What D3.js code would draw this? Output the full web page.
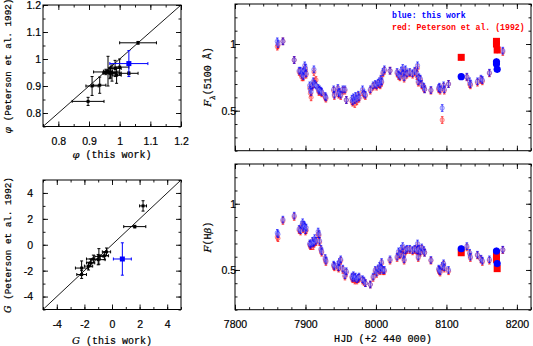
<!DOCTYPE html>
<html><head><meta charset="utf-8">
<script src="https://cdn.jsdelivr.net/npm/d3@7"></script>
<style>
body{margin:0;background:#fff;}
svg{display:block;}
.tick text{font-family:"Liberation Sans",Arial,sans-serif;font-size:10.5px;fill:#000;stroke:#000;stroke-width:0.2px;}
.lab{font-family:"Liberation Mono","DejaVu Sans Mono",monospace;font-size:10px;fill:#000;stroke:#000;stroke-width:0.2px;}
</style></head>
<body><svg id="c" width="533" height="346"></svg>
<script>
// ---------- DATA ----------
// phi comparison (this work vs Peterson 1992)
const phiX    = [1.06, 0.897, 0.91, 0.935, 0.955, 0.962, 0.968, 0.975, 0.985, 1.0, 1.03, 0.97, 0.99];
const phiY    = [1.06, 0.843, 0.90, 0.903, 0.952, 0.955, 0.947, 0.948, 0.965, 0.97, 0.947, 0.95, 0.94];
const phiXerr = [0.06, 0.052, 0.02, 0.02, 0.04, 0.015, 0.02, 0.03, 0.02, 0.03, 0.03, 0.02, 0.015];
const phiYerr = [0.005, 0.015, 0.035, 0.03, 0.01, 0.055, 0.02, 0.03, 0.03, 0.03, 0.005, 0.02, 0.03];
const phiBlue = {x: 1.03, y: 0.983, xerr: 0.062, yerr: 0.048};
// G comparison
const gX    = [2.25, 1.65, -0.4, -0.55, -0.95, -1.0, -1.35, -1.55, -1.7, -2.2, -2.2];
const gY    = [3.0, 1.4, -0.55, -0.85, -0.9, -1.15, -1.1, -1.4, -1.65, -1.8, -2.3];
const gXerr = [0.25, 0.8, 0.3, 0.3, 0.3, 0.5, 0.5, 0.3, 0.3, 0.45, 0.35];
const gYerr = [0.4, 0.1, 0.3, 0.3, 0.6, 0.4, 0.3, 0.3, 0.3, 0.55, 0.3];
const gBlue = {x: 0.75, y: -1.1, xerr: 0.65, yerr: 1.25};
// light curves (HJD - 2440000)
const hjd = [7860,7861,7868,7884,7891,7893,7895,7896,7897,7898,7899,7900,7901,7906,7907,7908,7910,7911,7912,7913,7915,7918,7919,7920,7922,7923,7928,7929,7940,7941,7946,7947,7948,7950,7953,7956,7958,7966,7967,7968,7970,7971,7973,7975,7976,7981,7983,7985,7992,7996,7999,8001,8003,8005,8006,8007,8008,8010,8012,8020,8030,8032,8034,8036,8038,8039,8040,8042,8044,8048,8052,8055,8058,8059,8060,8061,8063,8065,8068,8069,8078,8089,8090,8091,8094,8096,8097,8103,8129,8133,8134,8144,8149,8151,8161,8180];
const f5100Blue = [1.02,1.00,1.02,0.88,0.80,0.80,0.77,0.79,0.76,0.80,0.84,0.82,0.78,0.69,0.66,0.64,0.69,0.72,0.81,0.70,0.69,0.67,0.65,0.66,0.65,0.64,0.61,0.60,0.66,0.62,0.67,0.63,0.64,0.62,0.66,0.66,0.58,0.59,0.57,0.60,0.58,0.61,0.59,0.62,0.60,0.66,0.63,0.62,0.66,0.69,0.70,0.69,0.71,0.72,0.70,0.74,0.72,0.79,0.81,0.80,0.79,0.77,0.76,0.80,0.82,0.78,0.75,0.81,0.78,0.79,0.78,0.80,0.78,0.84,0.72,0.75,0.74,0.70,0.68,0.66,0.655,0.67,0.68,0.66,0.52,0.69,0.66,0.70,0.755,0.72,0.70,0.72,0.74,0.73,0.785,0.95];
const f5100Red  = [0.98,0.99,1.02,0.88,0.79,0.78,0.75,0.77,0.75,0.79,0.82,0.80,0.77,0.67,0.63,0.60,0.68,0.70,0.79,0.72,0.73,0.66,0.64,0.65,0.64,0.63,0.60,0.59,0.65,0.61,0.66,0.62,0.63,0.61,0.65,0.65,0.58,0.57,0.56,0.58,0.55,0.59,0.57,0.61,0.59,0.64,0.62,0.61,0.65,0.68,0.69,0.68,0.70,0.70,0.69,0.73,0.71,0.78,0.80,0.80,0.78,0.76,0.75,0.78,0.80,0.77,0.74,0.79,0.77,0.78,0.77,0.79,0.76,0.82,0.71,0.74,0.73,0.69,0.67,0.66,0.65,0.66,0.67,0.65,0.43,0.68,0.65,0.70,0.75,0.70,0.69,0.71,0.73,0.72,0.78,0.94];
const hbBlue = [0.78,0.77,0.88,0.91,0.81,0.80,0.84,0.86,0.82,0.84,0.83,0.80,0.82,0.70,0.69,0.70,0.72,0.70,0.71,0.74,0.72,0.79,0.77,0.72,0.66,0.64,0.59,0.57,0.54,0.53,0.54,0.52,0.56,0.58,0.51,0.46,0.49,0.45,0.44,0.46,0.44,0.45,0.43,0.44,0.45,0.43,0.42,0.40,0.39,0.45,0.50,0.48,0.51,0.53,0.50,0.52,0.56,0.50,0.50,0.58,0.60,0.64,0.62,0.66,0.68,0.61,0.58,0.65,0.66,0.66,0.65,0.66,0.65,0.70,0.60,0.66,0.64,0.67,0.65,0.63,0.575,0.51,0.50,0.49,0.53,0.55,0.52,0.50,0.68,0.63,0.60,0.615,0.585,0.57,0.58,0.653];
const hbRed  = [0.75,0.74,0.87,0.90,0.80,0.79,0.83,0.84,0.81,0.82,0.82,0.79,0.80,0.69,0.68,0.68,0.71,0.68,0.70,0.72,0.71,0.77,0.76,0.71,0.65,0.63,0.58,0.56,0.53,0.52,0.52,0.51,0.55,0.57,0.50,0.45,0.48,0.44,0.43,0.45,0.42,0.43,0.42,0.43,0.44,0.42,0.41,0.40,0.39,0.44,0.49,0.47,0.50,0.51,0.49,0.51,0.55,0.49,0.49,0.57,0.59,0.62,0.61,0.64,0.66,0.60,0.57,0.64,0.65,0.65,0.64,0.65,0.64,0.68,0.59,0.65,0.63,0.66,0.64,0.63,0.57,0.50,0.49,0.48,0.52,0.54,0.51,0.49,0.67,0.62,0.59,0.61,0.58,0.56,0.57,0.65];
// special epochs (large symbols)
const bigHjd5100Blue = [8121, 8171, 8171, 8172];
const bigF5100Blue   = [0.755, 0.867, 0.85, 0.81];
const bigHjd5100Red  = [8121, 8171, 8171, 8172];
const bigF5100Red    = [0.90, 1.02, 1.0, 0.955];
const bigHjdHbBlue = [8121, 8171, 8172];
const bigHbBlue    = [0.66, 0.643, 0.548];
const bigHjdHbRed  = [8121, 8171, 8171, 8172];
const bigHbRed     = [0.63, 0.61, 0.58, 0.51];
// ticks
const phiTicks = [0.8, 0.9, 1.0, 1.1, 1.2];
const gTicks = [-4, -2, 0, 2, 4];
const hjdTicks = [7800, 7900, 8000, 8100, 8200];
const fluxTicks = [0.5, 1];

// ---------- DRAWING ----------
const svg = d3.select("#c");
const fmt = d => (d === 1 ? "1" : String(d));

function frame(x0, y0, w, h, xd, yd, xMajor, xMinor, yMajor, yMinor, showXLabels, yLabelEnd) {
  const x = d3.scaleLinear().domain(xd).range([x0, x0 + w]);
  const y = d3.scaleLinear().domain(yd).range([y0 + h, y0]);
  const g = svg.append("g");
  const M = 5, m = 2.5;
  const axes = [
    [d3.axisBottom(x), `translate(0,${y0 + h})`, xMajor, xMinor, true],
    [d3.axisTop(x), `translate(0,${y0})`, xMajor, xMinor, false],
    [d3.axisLeft(y), `translate(${x0},0)`, yMajor, yMinor, true],
    [d3.axisRight(y), `translate(${x0 + w},0)`, yMajor, yMinor, false]
  ];
  axes.forEach(([ax, tr, maj, min, lab], i) => {
    g.append("g").attr("transform", tr)
      .call(ax.tickValues(min).tickSize(-m).tickFormat(""))
      .call(s => s.select(".domain").remove());
    const a = g.append("g").attr("transform", tr)
      .call(ax.tickValues(maj).tickSize(-M).tickPadding(i < 2 ? 11 : (x0 - yLabelEnd - M)).tickFormat(lab && (i >= 2 || showXLabels) ? fmt : ""));
    a.select(".domain").remove();
  });
  g.selectAll(".tick line").attr("stroke", "#000").attr("stroke-width", 0.9);
  g.append("rect").attr("x", x0).attr("y", y0).attr("width", w).attr("height", h)
    .attr("fill", "none").attr("stroke", "#000").attr("stroke-width", 1);
  return {x, y, g};
}

function errPts(p, xs, ys, xe, ye, color, size) {
  const gg = p.g.append("g");
  xs.forEach((xv, i) => {
    const cx = p.x(xv), cy = p.y(ys[i]);
    const x1 = p.x(xv - xe[i]), x2 = p.x(xv + xe[i]);
    const y1 = p.y(ys[i] - ye[i]), y2 = p.y(ys[i] + ye[i]);
    gg.append("line").attr("x1", x1).attr("x2", x2).attr("y1", cy).attr("y2", cy).attr("stroke", color).attr("stroke-width", 1);
    gg.append("line").attr("x1", cx).attr("x2", cx).attr("y1", y1).attr("y2", y2).attr("stroke", color).attr("stroke-width", 1);
    [x1, x2].forEach(v => gg.append("line").attr("x1", v).attr("x2", v).attr("y1", cy - 1.5).attr("y2", cy + 1.5).attr("stroke", color));
    [y1, y2].forEach(v => gg.append("line").attr("x1", cx - 1.5).attr("x2", cx + 1.5).attr("y1", v).attr("y2", v).attr("stroke", color));
    gg.append("rect").attr("x", cx - size / 2).attr("y", cy - size / 2).attr("width", size).attr("height", size).attr("fill", color);
  });
}

// Top-left: phi
const p1 = frame(43, 5, 138, 121.5, [0.75, 1.2], [0.75, 1.2], phiTicks, d3.range(0.75, 1.2001, 0.05), phiTicks, d3.range(0.75, 1.2001, 0.05), true, 36);
p1.g.append("line").attr("x1", p1.x(0.75)).attr("y1", p1.y(0.75)).attr("x2", p1.x(1.2)).attr("y2", p1.y(1.2)).attr("stroke", "#000").attr("stroke-width", 0.9);
errPts(p1, phiX, phiY, phiXerr, phiYerr, "#000", 3);
errPts(p1, [phiBlue.x], [phiBlue.y], [phiBlue.xerr], [phiBlue.yerr], "#00f", 5);

// Bottom-left: G
const p2 = frame(43, 180, 138, 129.5, [-5, 5], [-5, 5], gTicks, d3.range(-5, 5.001, 1), gTicks, d3.range(-5, 5.001, 1), true, 28);
p2.g.append("line").attr("x1", p2.x(-5)).attr("y1", p2.y(-5)).attr("x2", p2.x(5)).attr("y2", p2.y(5)).attr("stroke", "#000").attr("stroke-width", 0.9);
errPts(p2, gX, gY, gXerr, gYerr, "#000", 3);
errPts(p2, [gBlue.x], [gBlue.y], [gBlue.xerr], [gBlue.yerr], "#00f", 5);

// light-curve panels
function lc(p, xs, blue, red, bxs, bb, rxs, rr) {
  const g = p.g.append("g");
  const e = 0.025;
  const draw = (vals, fillc, strokec) => {
    xs.forEach((t, i) => {
      const cx = p.x(t), cy = p.y(vals[i]);
      g.append("line").attr("x1", cx).attr("x2", cx).attr("y1", p.y(vals[i] - e)).attr("y2", p.y(vals[i] + e)).attr("stroke", strokec).attr("stroke-width", 0.9);
      [vals[i] - e, vals[i] + e].forEach(v => g.append("line").attr("x1", cx - 1.3).attr("x2", cx + 1.3).attr("y1", p.y(v)).attr("y2", p.y(v)).attr("stroke", strokec).attr("stroke-width", 0.9));
      g.append("circle").attr("cx", cx).attr("cy", cy).attr("r", 2.2).attr("fill", fillc).attr("stroke", strokec).attr("stroke-opacity", 0.45).attr("stroke-width", 0.9);
    });
  };
  draw(red, "rgba(255,120,120,0.45)", "rgba(255,0,0,0.8)");
  draw(blue, "rgba(150,150,255,0.45)", "rgba(0,0,255,0.8)");
  rxs.forEach((t, i) => {
    const cx = p.x(t), cy = p.y(rr[i]);
    g.append("line").attr("x1", cx).attr("x2", cx).attr("y1", p.y(rr[i] - e)).attr("y2", p.y(rr[i] + e)).attr("stroke", "#f00");
    g.append("rect").attr("x", cx - 3.5).attr("y", cy - 3.5).attr("width", 7).attr("height", 7).attr("fill", "#f00");
  });
  bxs.forEach((t, i) => {
    const cx = p.x(t), cy = p.y(bb[i]);
    g.append("line").attr("x1", cx).attr("x2", cx).attr("y1", p.y(bb[i] - e)).attr("y2", p.y(bb[i] + e)).attr("stroke", "#00f");
    g.append("circle").attr("cx", cx).attr("cy", cy).attr("r", 3.6).attr("fill", "#00f");
  });
}

const p3 = frame(235, 4, 296, 146.7, [7800, 8220], [0.2, 1.3], hjdTicks, d3.range(7800, 8221, 20), fluxTicks, d3.range(0.2, 1.301, 0.1), false, 231);
lc(p3, hjd, f5100Blue, f5100Red, bigHjd5100Blue, bigF5100Blue, bigHjd5100Red, bigF5100Red);
const p4 = frame(235, 164, 296, 145.7, [7800, 8220], [0.2, 1.3], hjdTicks, d3.range(7800, 8221, 20), fluxTicks, d3.range(0.2, 1.301, 0.1), true, 231);
lc(p4, hjd, hbBlue, hbRed, bigHjdHbBlue, bigHbBlue, bigHjdHbRed, bigHbRed);

// legend
const leg = svg.append("g").attr("font-family", "Liberation Mono, monospace").attr("font-size", "8.2px").attr("font-weight", "bold");
leg.append("text").attr("x", 392).attr("y", 18).attr("fill", "#00f").text("blue: this work");
leg.append("text").attr("x", 392).attr("y", 30).attr("fill", "#f00").text("red: Peterson et al. (1992)");

// axis labels
function label(x, y, rot, parts, size) {
  const t = svg.append("text").attr("class", "lab").attr("text-anchor", "middle")
    .attr("transform", `translate(${x},${y}) rotate(${rot})`).style("font-size", size + "px");
  parts.forEach(p => {
    const s = t.append("tspan").text(p.t);
    if (p.i) s.attr("font-style", "italic").attr("font-family", "DejaVu Serif, serif");
    if (p.sub) s.attr("baseline-shift", "sub").style("font-size", (size * 0.7) + "px");
  });
}
label(112, 158, 0, [{t: "φ", i: 1}, {t: " (this work)"}], 10);
label(11, 66, -90, [{t: "φ", i: 1}, {t: " (Peterson et al. 1992)"}], 9.3);
label(112, 344, 0, [{t: "G", i: 1}, {t: " (this work)"}], 10);
label(11, 245, -90, [{t: "G", i: 1}, {t: " (Peterson et al. 1992)"}], 9.3);
label(211, 77, -90, [{t: "F", i: 1}, {t: "λ", i: 1, sub: 1}, {t: "(5100 Å)"}], 10);
label(211, 237, -90, [{t: "F", i: 1}, {t: "(H"}, {t: "β", i: 1}, {t: ")"}], 10);
label(383, 342, 0, [{t: "HJD (+2 440 000)"}], 10.2);
</script></body></html>
